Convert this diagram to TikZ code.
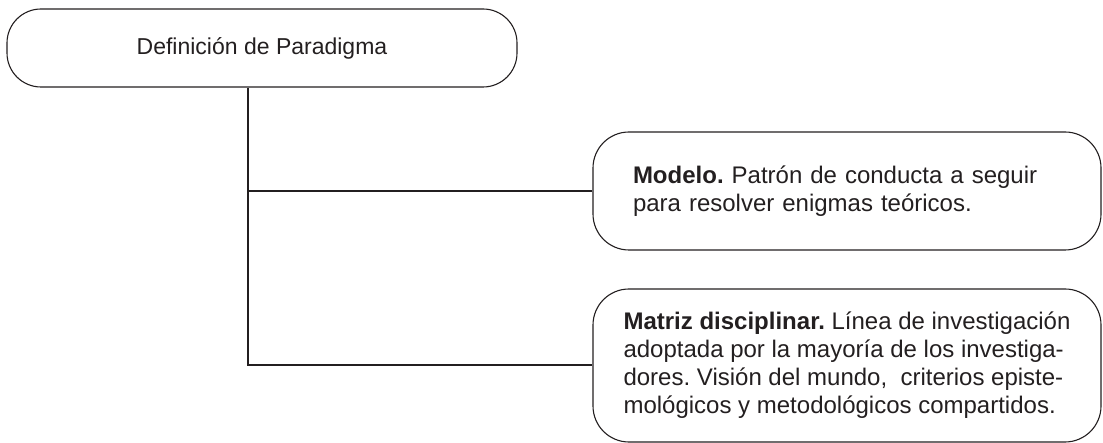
\documentclass[tikz,border=0pt]{standalone}
\usepackage{xcolor}
\usepackage{fontspec}
\setmainfont{Liberation Sans}
\usepackage{tikz}
\usetikzlibrary{positioning}

\definecolor{ink}{HTML}{231F20}

\begin{document}
\frenchspacing
\begin{tikzpicture}[
    x=1pt, y=-1pt,
    title/.style={rectangle, draw=ink, line width=1.1pt, rounded corners=34pt, minimum width=510pt, minimum height=78pt, align=center, text=ink, font=\fontsize{23}{28}\selectfont},
    leaf/.style={rectangle, draw=ink, line width=1.1pt, rounded corners=36pt, minimum width=508pt, align=left, text=ink, font=\fontsize{24}{28}\selectfont},
    link/.style={draw=ink, line width=2pt}
]
\useasboundingbox (0,0) rectangle (1103,443);

% Concept
\node[title] (paradigma) at (262,48) {Definición de Paradigma};

% Meanings
\node[leaf, minimum height=118pt, text width=428pt] (modelo) at (847,191) {\textbf{Modelo.} Patrón de conducta a seguir\\para resolver enigmas teóricos.};
\node[leaf, minimum height=153pt] (matriz) at (847,365.5) {\textbf{Matriz disciplinar.} Línea de investigación\\adoptada por la mayoría de los investiga-\\dores. Visión del mundo,~ criterios episte-\\mológicos y metodológicos compartidos.};

% Lines
\draw[link] ([xshift=-14pt]paradigma.south) |- (matriz.west);
\draw[link] ([xshift=-14pt]paradigma.south |- modelo.west) -- (modelo.west);

\end{tikzpicture}
\end{document}
